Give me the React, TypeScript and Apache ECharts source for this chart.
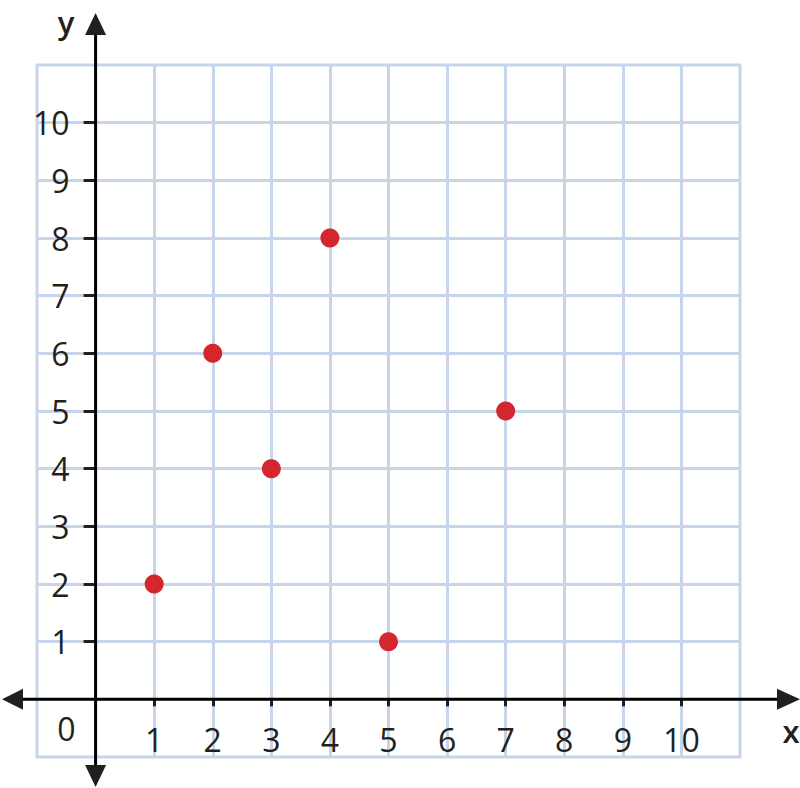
import React, { useEffect, useRef } from "react";
import * as echarts from "echarts";

const xTicks = [1, 2, 3, 4, 5, 6, 7, 8, 9, 10];
const yTicks = [1, 2, 3, 4, 5, 6, 7, 8, 9, 10];
const pointsX = [1, 2, 3, 4, 5, 7];
const pointsY = [2, 6, 4, 8, 1, 5];

const INK = "#231f20";
const GRIDC = "#c6d5ea";
const FONT = "'Open Sans', 'Noto Sans', sans-serif";

const G_LEFT = 37;
const G_TOP = 65;
const G_W = 703;
const G_H = 692;

export default function App() {
  const ref = useRef<HTMLDivElement>(null);
  useEffect(() => {
    document.body.style.margin = "0";
    const chart = echarts.init(ref.current!, null, { renderer: "svg" });
    const data = pointsX.map((x, i) => [x, pointsY[i]]);
    chart.setOption({
      animation: false,
      grid: {
        left: G_LEFT,
        top: G_TOP,
        width: G_W,
        height: G_H,
        outerBoundsMode: "none",
        show: true,
        borderColor: GRIDC,
        borderWidth: 3,
        backgroundColor: "transparent",
      },
      xAxis: {
        type: "value",
        min: -1,
        max: 11,
        interval: 1,
        axisLine: { show: false, onZero: false },
        axisTick: { show: true, length: 7, customValues: xTicks, lineStyle: { color: INK, width: 3 } },
        axisLabel: { show: true, customValues: xTicks, margin: 24, fontSize: 32, color: INK, fontFamily: FONT },
        splitLine: { show: true, lineStyle: { color: GRIDC, width: 3 } },
      },
      yAxis: {
        type: "value",
        min: -1,
        max: 11,
        interval: 1,
        axisLine: { show: false, onZero: false },
        axisTick: { show: true, length: 12, customValues: yTicks, lineStyle: { color: INK, width: 3 } },
        axisLabel: { show: true, customValues: yTicks, margin: 26, fontSize: 32, color: INK, fontFamily: FONT },
        splitLine: { show: true, lineStyle: { color: GRIDC, width: 3 } },
      },
      series: [
        {
          type: "scatter",
          data,
          symbol: "circle",
          symbolSize: 19,
          itemStyle: { color: "#d3262d", opacity: 1 },
          z: 10,
        },
      ],
    });
    const o = chart.convertToPixel({ gridIndex: 0 }, [0, 0]) as number[];
    const zl = chart.convertToPixel({ gridIndex: 0 }, [-0.5, -0.5]) as number[];
    const ox = o[0];
    const oy = o[1];
    const W = 800;
    const H = 788;
    chart.setOption({
      xAxis: { offset: -(G_TOP + G_H - oy) },
      yAxis: { offset: -(ox - G_LEFT) },
      graphic: [
        { type: "line", z: 100, shape: { x1: 20, y1: oy, x2: W - 20, y2: oy }, style: { stroke: "#000", lineWidth: 3 } },
        { type: "line", z: 100, shape: { x1: ox, y1: 33, x2: ox, y2: H - 21 }, style: { stroke: "#000", lineWidth: 3 } },
        { type: "polygon", z: 100, shape: { points: [[2, oy], [23, oy - 10.5], [23, oy + 10.5]] }, style: { fill: INK } },
        { type: "polygon", z: 100, shape: { points: [[W, oy], [W - 23, oy - 10.5], [W - 23, oy + 10.5]] }, style: { fill: INK } },
        { type: "polygon", z: 100, shape: { points: [[ox, 13], [ox - 10.5, 35], [ox + 10.5, 35]] }, style: { fill: INK } },
        { type: "polygon", z: 100, shape: { points: [[ox, H - 1], [ox - 10.5, H - 23], [ox + 10.5, H - 23]] }, style: { fill: INK } },
        { type: "text", z: 100, x: zl[0], y: zl[1], style: { text: "0", fontSize: 32, fontFamily: FONT, fill: INK, align: "center", verticalAlign: "middle" } },
        { type: "text", z: 100, x: 66, y: 22, style: { text: "y", fontSize: 31, fontWeight: 600, fontFamily: FONT, fill: INK, align: "center", verticalAlign: "middle" } },
        { type: "text", z: 100, x: 791, y: 731, style: { text: "x", fontSize: 31, fontWeight: 600, fontFamily: FONT, fill: INK, align: "center", verticalAlign: "middle" } },
      ],
    });
    return () => chart.dispose();
  }, []);
  return <div ref={ref} style={{ width: 800, height: 788 }} />;
}
